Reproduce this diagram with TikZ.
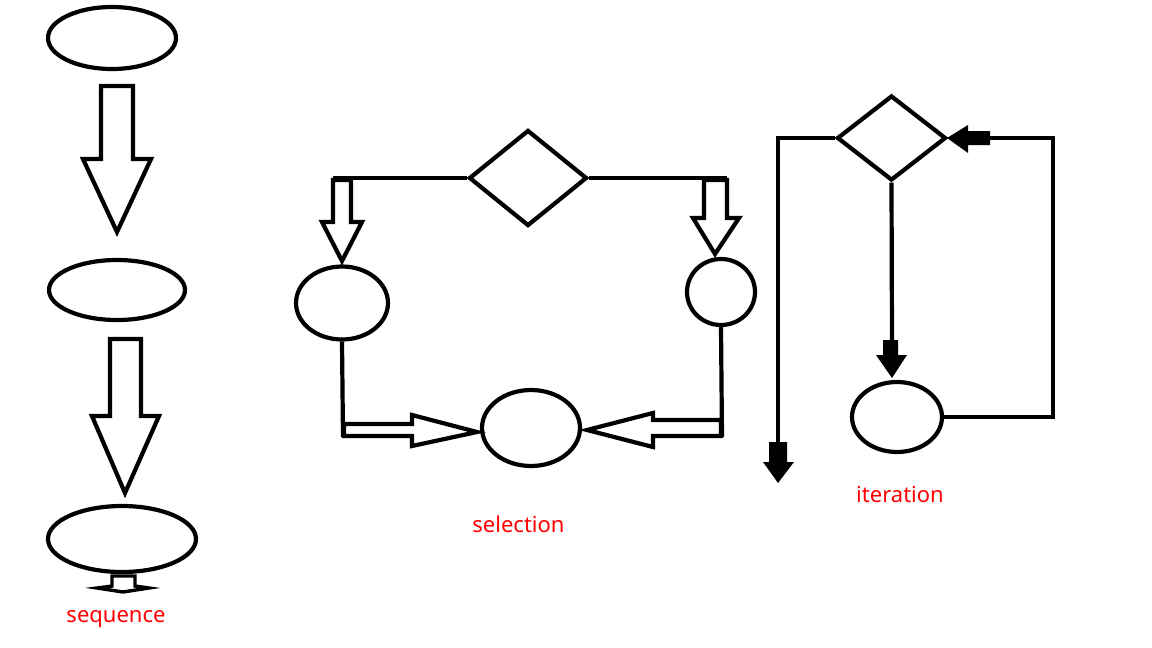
\documentclass[tikz,border=0pt]{standalone}
\usepackage{fontspec}
\setmainfont{Noto Sans}
\usetikzlibrary{shapes.geometric}
\definecolor{lblred}{RGB}{255,0,0}
\begin{document}
\begin{tikzpicture}[x=1pt,y=-1pt,line width=4.2pt,
  oval/.style={draw,ellipse,inner sep=0pt},
  dmd/.style={draw,diamond,inner sep=0pt},
  blockarrow/.style={draw,fill=white,line join=miter},
  solidarrow/.style={fill=black},
  conn/.style={draw,line join=miter},
  lbl/.style={text=lblred,anchor=base,inner sep=0pt,font=\fontsize{22}{26}\selectfont}]
\useasboundingbox[fill=white] (0,0) rectangle (1152,648);

% ---------- sequence ----------
\node[oval,minimum width=128pt,minimum height=62pt] (s1) at (112,38) {};
\node[oval,minimum width=136pt,minimum height=60pt] (s2) at (117,290) {};
\node[oval,minimum width=148pt,minimum height=66pt] (s3) at (122,539) {};
\path[blockarrow] (101,86) -- (133,86) -- (133,159) -- (151,159) -- (117,232) -- (83,159) -- (101,159) -- cycle;
\path[blockarrow] (110,339) -- (141,339) -- (141,416) -- (159,416) -- (125,493) -- (92,416) -- (110,416) -- cycle;
\path[blockarrow,line width=3.4pt] (112,576) -- (135,576) -- (135,586) -- (149,588) -- (123,592) -- (97,588) -- (112,586) -- cycle;
\node[lbl] (lseq) at (116,622) {sequence};

% ---------- selection ----------
\node[dmd,minimum width=118pt,minimum height=96pt] (d1) at (528,178) {};
\node[oval,minimum width=92pt,minimum height=73pt] (e1) at (342,303) {};
\node[oval,minimum width=68pt,minimum height=66pt] (e2) at (721,292) {};
\node[oval,minimum width=98pt,minimum height=76pt] (e3) at (531,428) {};
\coordinate (dl) at (333,178);
\coordinate (dr) at (727,178);
\draw[conn] (d1.west) -- (dl);
\draw[conn] (d1.east) -- (dr);
\path[blockarrow] (333,180) -- (351,180) -- (351,222) -- (362,222) -- (342,261) -- (322,222) -- (333,222) -- cycle;
\path[blockarrow] (704,180) -- (727,180) -- (727,218) -- (739,218) -- (715,254) -- (693,218) -- (704,218) -- cycle;
\coordinate (bl) at (343,437);
\coordinate (br) at (722,437);
\draw[conn] (e1.south) -- (bl);
\draw[conn] (e2.south) -- (br);
\path[blockarrow] (344,424) -- (412,424) -- (412,415) -- (477,432) -- (412,446) -- (412,436) -- (344,436) -- cycle;
\path[blockarrow] (721,420) -- (653,420) -- (653,413) -- (587,430) -- (653,447) -- (653,436) -- (721,436) -- cycle;
\node[lbl] (lsel) at (518.5,532) {selection};

% ---------- iteration ----------
\node[dmd,minimum width=109pt,minimum height=85pt] (d2) at (891.5,138) {};
\node[oval,minimum width=90pt,minimum height=70pt] (e4) at (897,417) {};
\coordinate (il) at (778,443);
\coordinate (id) at (892,341);
\coordinate (ir) at (990,138);
\draw[conn] (d2.west) -| (il);
\draw[conn] (d2.south) -- (id);
\draw[conn] (e4.east) -- (1053,417) -- (1053,138) -- (ir);
\path[solidarrow] (769,442) -- (787,442) -- (787,462) -- (794,462) -- (778,483) -- (763,462) -- (769,462) -- cycle;
\path[solidarrow] (883,340) -- (898,340) -- (898,355) -- (907,355) -- (892,378) -- (876,355) -- (883,355) -- cycle;
\path[solidarrow] (990,131) -- (968,131) -- (968,125) -- (947,138) -- (968,153) -- (968,145) -- (990,145) -- cycle;
\node[lbl] (lit) at (900,502) {iteration};
\end{tikzpicture}
\end{document}
